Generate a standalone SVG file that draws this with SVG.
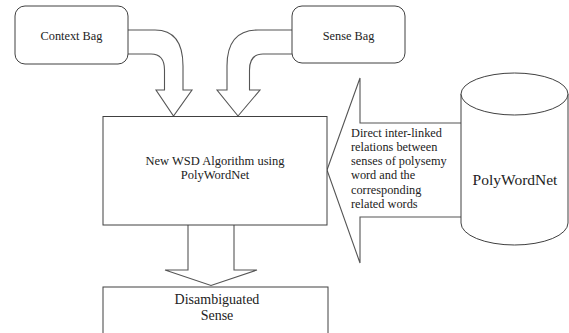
<svg xmlns="http://www.w3.org/2000/svg" width="569" height="333" viewBox="0 0 569 333">
<style>
.shape{fill:#fff;stroke:#404040;stroke-width:1}
.arrow{fill:#fff;stroke:#555;stroke-width:1.1;stroke-linejoin:miter}
.c{text-anchor:middle}
</style>
<rect width="569" height="333" fill="#fff"/>
<g font-family="Liberation Serif, serif" fill="#222">
<g id="connectors">
<path class="arrow" d="M128,30 H155 Q183,30 183,66 V90 H192 L173.5,116 L156,90 H164.5 V70 Q164.5,54 151,54 H128"/>
<path class="arrow" d="M292,30 H258 Q227,30 227,66 V90 H217 L238,116 L260,90 H249.5 V70 Q249.5,54 263,54 H292"/>
<path class="arrow" d="M188,225 V270 H165 L211,285.5 L257,270 H234 V225"/>
<path class="arrow" d="M461,123 H360 V78 L327,170 L360,263 V217 H461"/>
<g font-size="12.3">
<text x="351" y="137">Direct inter-linked</text>
<text x="351" y="151">relations between</text>
<text x="351" y="165">senses of polysemy</text>
<text x="351" y="179">word and the</text>
<text x="351" y="194">corresponding</text>
<text x="351" y="208">related words</text>
</g>
</g>
<g id="context-bag">
<rect class="shape" x="15" y="6" width="113" height="58" rx="10"/>
<text class="c" x="71.5" y="40" font-size="12.3">Context Bag</text>
</g>
<g id="sense-bag">
<rect class="shape" x="292" y="6" width="113" height="57" rx="10"/>
<text class="c" x="348.5" y="40" font-size="12.3">Sense Bag</text>
</g>
<g id="wsd-algorithm">
<rect class="shape" x="103" y="116.5" width="224" height="108.5"/>
<text class="c" x="215" y="165" font-size="12.5">New WSD Algorithm using</text>
<text class="c" x="215" y="179" font-size="12.5">PolyWordNet</text>
</g>
<g id="disambiguated-sense">
<rect class="shape" x="103" y="287" width="225" height="60"/>
<text class="c" x="217" y="304" font-size="14">Disambiguated</text>
<text class="c" x="217" y="320" font-size="14">Sense</text>
</g>
<g id="polywordnet">
<path class="shape" d="M461,94 V223 A53.5,22 0 0 0 568,223 V94"/>
<ellipse class="shape" cx="514.5" cy="94" rx="53.5" ry="21"/>
<text class="c" x="515" y="185" font-size="15.5">PolyWordNet</text>
</g>
</g>
</svg>
